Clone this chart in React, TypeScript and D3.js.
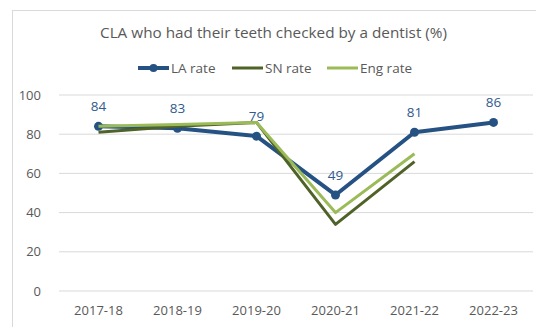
import React from "react";
import * as d3 from "d3";

const categories = ["2017-18", "2018-19", "2019-20", "2020-21", "2021-22", "2022-23"];
const laRate: (number | null)[] = [84, 83, 79, 49, 81, 86];
const snRate: (number | null)[] = [81, 84, 86, 34, 66, null];
const engRate: (number | null)[] = [84, 85, 86, 40, 70, null];
const yTicks = [0, 20, 40, 60, 80, 100];

const W = 536;
const H = 327;
const FONT = "'Open Sans', 'Liberation Sans', sans-serif";

export default function App() {
  const x = d3.scaleBand<string>().domain(categories).range([59, 533]);
  const y = d3.scaleLinear().domain([0, 100]).range([291, 95]);
  const cx = (c: string) => (x(c) as number) + x.bandwidth() / 2;

  const mk = (vals: (number | null)[]) =>
    d3
      .line<number | null>()
      .defined((d) => d !== null)
      .x((_, i) => cx(categories[i]))
      .y((d) => y(d as number))(vals) as string;

  const series = [
    { name: "LA rate", vals: laRate, color: "#255283", width: 4, marker: true },
    { name: "SN rate", vals: snRate, color: "#4f6228", width: 3, marker: false },
    { name: "Eng rate", vals: engRate, color: "#9bbb59", width: 3, marker: false },
  ];

  const legendX = [138, 232, 327];

  return (
    <svg width={W} height={H} style={{ position: "absolute", left: 0, top: 0 }} fontFamily={FONT}>
      <rect x={0} y={0} width={W} height={H} fill="#ffffff" />
      <rect x={12.5} y={10.5} width={W} height={H} fill="none" stroke="#d9d9d9" strokeWidth={1} />
      <text x={273.5} y={38} textAnchor="middle" fontSize={15} fill="#595959" textLength={347} lengthAdjust="spacingAndGlyphs">
        CLA who had their teeth checked by a dentist (%)
      </text>
      {series.map((s, i) => (
        <g key={s.name}>
          <line x1={legendX[i]} x2={legendX[i] + 31} y1={68} y2={68} stroke={s.color} strokeWidth={s.width} />
          {s.marker && <circle cx={legendX[i] + 15.5} cy={68} r={4} fill={s.color} />}
          <text x={legendX[i] + 33} y={73} fontSize={13.5} fill="#595959">
            {s.name}
          </text>
        </g>
      ))}
      {yTicks.map((t) => (
        <g key={t}>
          <line x1={59} x2={533} y1={y(t)} y2={y(t)} stroke="#d9d9d9" strokeWidth={1} />
          <text x={41} y={y(t) + 4.5} textAnchor="end" fontSize={13} fill="#595959">
            {t}
          </text>
        </g>
      ))}
      {categories.map((c) => (
        <text key={c} x={cx(c)} y={315} textAnchor="middle" fontSize={13} fill="#595959">
          {c}
        </text>
      ))}
      {series.map((s) => (
        <g key={s.name}>
          <path d={mk(s.vals)} fill="none" stroke={s.color} strokeWidth={s.width} strokeLinejoin="round" />
          {s.marker &&
            s.vals.map((v, i) =>
              v === null ? null : <circle key={i} cx={cx(categories[i])} cy={y(v)} r={4.5} fill={s.color} />
            )}
        </g>
      ))}
      {laRate.map((v, i) =>
        v === null ? null : (
          <text key={i} x={cx(categories[i])} y={y(v) - 15} textAnchor="middle" fontSize={13.5} fill="#2f5b8e">
            {v}
          </text>
        )
      )}
    </svg>
  );
}
